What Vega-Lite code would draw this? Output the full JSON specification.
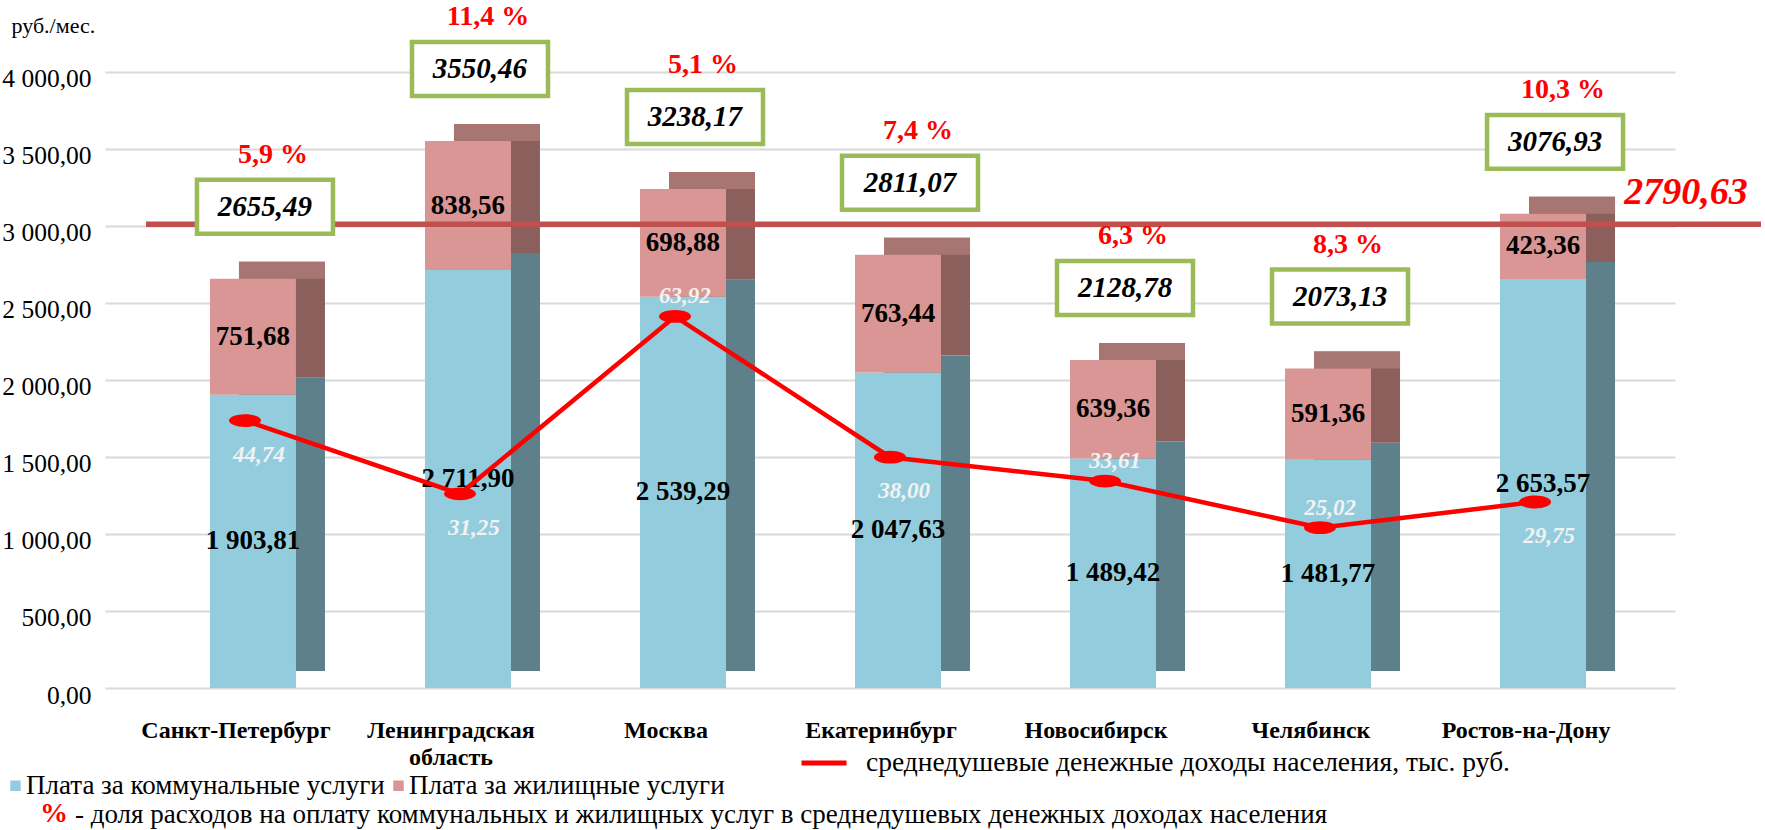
{
  "$schema": "https://vega.github.io/schema/vega-lite/v6.json",
  "width": 1570,
  "height": 678,
  "autosize": {"type": "none"},
  "padding": {"left": 105, "top": 10, "right": 90, "bottom": 142},
  "background": "white",
  "config": {
    "locale": {"number": {"decimal": ",", "thousands": " ", "grouping": [3], "currency": ["", ""], "percent": " %"}},
    "font": "Liberation Serif",
    "view": {"stroke": null},
    "axis": {"labelFont": "Liberation Serif", "titleFont": "Liberation Serif"},
    "legend": {"padding": 0, "labelLimit": 1400, "titleLimit": 300, "labelFont": "Liberation Serif", "titleFont": "Liberation Serif"}
  },
  "datasets": {
    "parts": [
      {"city": "Санкт-Петербург", "kind": "Плата за коммунальные услуги", "value": 1903.81},
      {"city": "Санкт-Петербург", "kind": "Плата за жилищные услуги", "value": 751.68},
      {"city": "Ленинградская область", "kind": "Плата за коммунальные услуги", "value": 2711.90},
      {"city": "Ленинградская область", "kind": "Плата за жилищные услуги", "value": 838.56},
      {"city": "Москва", "kind": "Плата за коммунальные услуги", "value": 2539.29},
      {"city": "Москва", "kind": "Плата за жилищные услуги", "value": 698.88},
      {"city": "Екатеринбург", "kind": "Плата за коммунальные услуги", "value": 2047.63},
      {"city": "Екатеринбург", "kind": "Плата за жилищные услуги", "value": 763.44},
      {"city": "Новосибирск", "kind": "Плата за коммунальные услуги", "value": 1489.42},
      {"city": "Новосибирск", "kind": "Плата за жилищные услуги", "value": 639.36},
      {"city": "Челябинск", "kind": "Плата за коммунальные услуги", "value": 1481.77},
      {"city": "Челябинск", "kind": "Плата за жилищные услуги", "value": 591.36},
      {"city": "Ростов-на-Дону", "kind": "Плата за коммунальные услуги", "value": 2653.57},
      {"city": "Ростов-на-Дону", "kind": "Плата за жилищные услуги", "value": 423.36}
    ],
    "cities": [
      {"city": "Санкт-Петербург", "total": 2655.49, "pct": 0.059, "income": 44.74},
      {"city": "Ленинградская область", "total": 3550.46, "pct": 0.114, "income": 31.25},
      {"city": "Москва", "total": 3238.17, "pct": 0.051, "income": 63.92},
      {"city": "Екатеринбург", "total": 2811.07, "pct": 0.074, "income": 38.00},
      {"city": "Новосибирск", "total": 2128.78, "pct": 0.063, "income": 33.61},
      {"city": "Челябинск", "total": 2073.13, "pct": 0.083, "income": 25.02},
      {"city": "Ростов-на-Дону", "total": 3076.93, "pct": 0.103, "income": 29.75}
    ],
    "avg": [{"pos": 3010, "avg": 2790.63}]
  },
  "layer": [
    {
      "layer": [
        {
          "data": {"name": "parts"},
          "mark": {"type": "bar", "xOffset": 37, "yOffset": -17, "y2Offset": -17},
          "encoding": {
            "x": {"field": "city", "type": "nominal", "scale": {"domain": ["Санкт-Петербург", "Ленинградская область", "Москва", "Екатеринбург", "Новосибирск", "Челябинск", "Ростов-на-Дону"], "paddingInner": 0.6, "paddingOuter": 0.451},
              "axis": {"title": null, "labelAngle": 0, "labelFont": "Liberation Serif", "labelFontSize": 24, "labelFontWeight": "bold", "labelColor": "#000000", "labelLimit": 400, "labelOffset": -9, "ticks": false, "domain": false, "grid": false, "labelPadding": 30, "labelLineHeight": 27,
                "labelExpr": "datum.label === 'Ленинградская область' ? ['Ленинградская', 'область'] : datum.label"}},
            "y": {"field": "value", "type": "quantitative", "stack": "zero", "scale": {"domain": [0, 4400], "nice": false},
              "axis": {"values": [0, 500, 1000, 1500, 2000, 2500, 3000, 3500, 4000], "format": ",.2f", "labelFont": "Liberation Serif", "labelFontSize": 25.5, "labelColor": "#000000", "labelPadding": 14, "labelOffset": 7, "ticks": false, "domain": false, "grid": true, "gridColor": "#D9D9D9", "gridWidth": 2,
                "title": "руб./мес.", "titleFont": "Liberation Serif", "titleAngle": 0, "titleX": -94, "titleY": 15, "titleAlign": "left", "titleBaseline": "middle", "titleFontSize": 22, "titleFontWeight": "normal", "titleColor": "#000000"}},
            "detail": {"field": "kind"},
            "order": {"field": "kind", "sort": "descending"},
            "fill": {"condition": {"test": "datum.kind === 'Плата за коммунальные услуги'", "value": "#5E808B"}, "value": "#8B5F5C"}
          }
        },
        {
          "data": {"name": "cities"},
          "mark": {"type": "bar", "xOffset": 37, "yOffset": -17, "y2Offset": 0, "color": "#A87672"},
          "encoding": {
            "x": {"field": "city", "type": "nominal", "scale": {"domain": ["Санкт-Петербург", "Ленинградская область", "Москва", "Екатеринбург", "Новосибирск", "Челябинск", "Ростов-на-Дону"]}},
            "y": {"field": "total", "type": "quantitative", "scale": {"domain": [0, 4400], "nice": false}},
            "y2": {"field": "total"}
          }
        },
        {
          "data": {"name": "parts"},
          "mark": {"type": "bar", "xOffset": 8},
          "encoding": {
            "x": {"field": "city", "type": "nominal", "scale": {"domain": ["Санкт-Петербург", "Ленинградская область", "Москва", "Екатеринбург", "Новосибирск", "Челябинск", "Ростов-на-Дону"]}},
            "y": {"field": "value", "type": "quantitative", "stack": "zero", "scale": {"domain": [0, 4400], "nice": false}},
            "order": {"field": "kind", "sort": "descending"},
            "fill": {"field": "kind", "type": "nominal",
              "scale": {"domain": ["Плата за коммунальные услуги", "Плата за жилищные услуги"], "range": ["#93CDDD", "#D99694"]},
              "legend": {"orient": "none", "legendX": -103, "legendY": 762, "direction": "horizontal", "title": null, "symbolType": "square", "symbolSize": 110, "symbolStrokeWidth": 0, "labelFont": "Liberation Serif", "labelFontSize": 27, "labelColor": "#000000", "labelOffset": -3, "columnPadding": -4}}
          }
        },
        {
          "data": {"name": "avg"},
          "mark": {"type": "rule", "color": "#C0504D", "strokeWidth": 5.5, "xOffset": -99, "x2Offset": 226},
          "encoding": {
            "x": {"datum": "Санкт-Петербург", "type": "nominal", "scale": {"domain": ["Санкт-Петербург", "Ленинградская область", "Москва", "Екатеринбург", "Новосибирск", "Челябинск", "Ростов-на-Дону"]}},
            "x2": {"datum": "Ростов-на-Дону"},
            "y": {"field": "pos", "type": "quantitative", "scale": {"domain": [0, 4400], "nice": false}},
            "strokeDash": {"datum": "- доля расходов на оплату коммунальных и жилищных услуг в среднедушевых денежных доходах населения", "type": "nominal",
              "scale": {"range": [[1, 0]]},
              "legend": {"orient": "none", "legendX": -65, "legendY": 791, "title": "%", "titleFont": "Liberation Serif", "titleOrient": "left", "titleColor": "#FF0000", "titleFontSize": 28, "titleFontWeight": "bold", "titlePadding": 6, "symbolSize": 0, "symbolOpacity": 0, "symbolStrokeWidth": 0, "labelOffset": -26, "labelFont": "Liberation Serif", "labelFontSize": 27, "labelColor": "#000000"}}
          }
        },
        {
          "data": {"name": "avg"},
          "mark": {"type": "text", "fontSize": 38, "fontWeight": "bold", "fontStyle": "italic", "color": "#FF0000", "dx": 151, "dy": -31, "align": "center", "baseline": "middle"},
          "encoding": {
            "x": {"datum": "Ростов-на-Дону", "type": "nominal", "scale": {"domain": ["Санкт-Петербург", "Ленинградская область", "Москва", "Екатеринбург", "Новосибирск", "Челябинск", "Ростов-на-Дону"]}},
            "y": {"field": "pos", "type": "quantitative", "scale": {"domain": [0, 4400], "nice": false}},
            "text": {"field": "avg", "type": "quantitative", "format": ".2f"}
          }
        },
        {
          "data": {"name": "parts"},
          "mark": {"type": "text", "fontSize": 27, "fontWeight": "bold", "color": "#000000", "xOffset": 8, "baseline": "middle", "align": "center"},
          "encoding": {
            "x": {"field": "city", "type": "nominal", "scale": {"domain": ["Санкт-Петербург", "Ленинградская область", "Москва", "Екатеринбург", "Новосибирск", "Челябинск", "Ростов-на-Дону"]}},
            "y": {"field": "value", "type": "quantitative", "stack": "zero", "bandPosition": 0.5, "scale": {"domain": [0, 4400], "nice": false}},
            "detail": {"field": "kind"},
            "order": {"field": "kind", "sort": "descending"},
            "text": {"field": "value", "type": "quantitative", "format": ",.2f"}
          }
        },
        {
          "data": {"name": "cities"},
          "mark": {"type": "point", "shape": "M-1,-0.397H1V0.397H-1Z", "size": 18496, "fill": "#FFFFFF", "stroke": "#9BBB59", "strokeWidth": 4.5, "opacity": 1, "filled": true, "xOffset": 20, "yOffset": -72},
          "encoding": {
            "x": {"field": "city", "type": "nominal", "scale": {"domain": ["Санкт-Петербург", "Ленинградская область", "Москва", "Екатеринбург", "Новосибирск", "Челябинск", "Ростов-на-Дону"]}},
            "y": {"field": "total", "type": "quantitative", "scale": {"domain": [0, 4400], "nice": false}}
          }
        },
        {
          "data": {"name": "cities"},
          "mark": {"type": "text", "fontSize": 29, "fontWeight": "bold", "fontStyle": "italic", "color": "#000000", "xOffset": 20, "yOffset": -72, "baseline": "middle", "align": "center"},
          "encoding": {
            "x": {"field": "city", "type": "nominal", "scale": {"domain": ["Санкт-Петербург", "Ленинградская область", "Москва", "Екатеринбург", "Новосибирск", "Челябинск", "Ростов-на-Дону"]}},
            "y": {"field": "total", "type": "quantitative", "scale": {"domain": [0, 4400], "nice": false}},
            "text": {"field": "total", "type": "quantitative", "format": ".2f"}
          }
        },
        {
          "data": {"name": "cities"},
          "mark": {"type": "text", "fontSize": 28, "fontWeight": "bold", "color": "#FF0000", "xOffset": 28, "yOffset": -124, "baseline": "middle", "align": "center"},
          "encoding": {
            "x": {"field": "city", "type": "nominal", "scale": {"domain": ["Санкт-Петербург", "Ленинградская область", "Москва", "Екатеринбург", "Новосибирск", "Челябинск", "Ростов-на-Дону"]}},
            "y": {"field": "total", "type": "quantitative", "scale": {"domain": [0, 4400], "nice": false}},
            "text": {"field": "pct", "type": "quantitative", "format": ".1%"}
          }
        }
      ]
    },
    {
      "layer": [
        {
          "data": {"name": "cities"},
          "mark": {"type": "line", "strokeWidth": 4.5},
          "encoding": {
            "x": {"field": "city", "type": "nominal", "scale": {"domain": ["Санкт-Петербург", "Ленинградская область", "Москва", "Екатеринбург", "Новосибирск", "Челябинск", "Ростов-на-Дону"]}},
            "y": {"field": "income", "type": "quantitative", "scale": {"domain": [-4.5, 120.35], "nice": false, "zero": false}, "axis": null},
            "stroke": {"datum": "среднедушевые денежные доходы населения, тыс. руб.", "type": "nominal", "scale": {"range": ["#FF0000"]},
              "legend": {"orient": "none", "legendX": 694, "legendY": 728, "title": null, "symbolType": "stroke", "symbolSize": 2025, "symbolStrokeWidth": 5, "labelOffset": 17, "labelFont": "Liberation Serif", "labelFontSize": 27.5, "labelColor": "#000000"}}
          }
        },
        {
          "data": {"name": "cities"},
          "mark": {"type": "point", "shape": "M-1,0A1,0.4,0,1,1,1,0A1,0.4,0,1,1,-1,0Z", "size": 1024, "filled": true, "fill": "#FF0000", "strokeWidth": 0, "opacity": 1},
          "encoding": {
            "x": {"field": "city", "type": "nominal", "scale": {"domain": ["Санкт-Петербург", "Ленинградская область", "Москва", "Екатеринбург", "Новосибирск", "Челябинск", "Ростов-на-Дону"]}},
            "y": {"field": "income", "type": "quantitative", "scale": {"domain": [-4.5, 120.35], "nice": false, "zero": false}, "axis": null}
          }
        },
        {
          "data": {"name": "cities"},
          "transform": [{"filter": {"not": {"field": "city", "oneOf": ["Москва", "Новосибирск", "Челябинск"]}}}],
          "mark": {"type": "text", "fontSize": 23, "fontStyle": "italic", "fontWeight": "bold", "color": "#F2F2F2", "dx": 14, "dy": 34, "baseline": "middle", "align": "center"},
          "encoding": {
            "x": {"field": "city", "type": "nominal", "scale": {"domain": ["Санкт-Петербург", "Ленинградская область", "Москва", "Екатеринбург", "Новосибирск", "Челябинск", "Ростов-на-Дону"]}},
            "y": {"field": "income", "type": "quantitative", "scale": {"domain": [-4.5, 120.35], "nice": false, "zero": false}, "axis": null},
            "text": {"field": "income", "type": "quantitative", "format": ".2f"}
          }
        },
        {
          "data": {"name": "cities"},
          "transform": [{"filter": {"field": "city", "oneOf": ["Москва", "Новосибирск", "Челябинск"]}}],
          "mark": {"type": "text", "fontSize": 23, "fontStyle": "italic", "fontWeight": "bold", "color": "#F2F2F2", "dx": 10, "dy": -20, "baseline": "middle", "align": "center"},
          "encoding": {
            "x": {"field": "city", "type": "nominal", "scale": {"domain": ["Санкт-Петербург", "Ленинградская область", "Москва", "Екатеринбург", "Новосибирск", "Челябинск", "Ростов-на-Дону"]}},
            "y": {"field": "income", "type": "quantitative", "scale": {"domain": [-4.5, 120.35], "nice": false, "zero": false}, "axis": null},
            "text": {"field": "income", "type": "quantitative", "format": ".2f"}
          }
        }
      ]
    }
  ],
  "resolve": {"scale": {"y": "independent"}}
}
